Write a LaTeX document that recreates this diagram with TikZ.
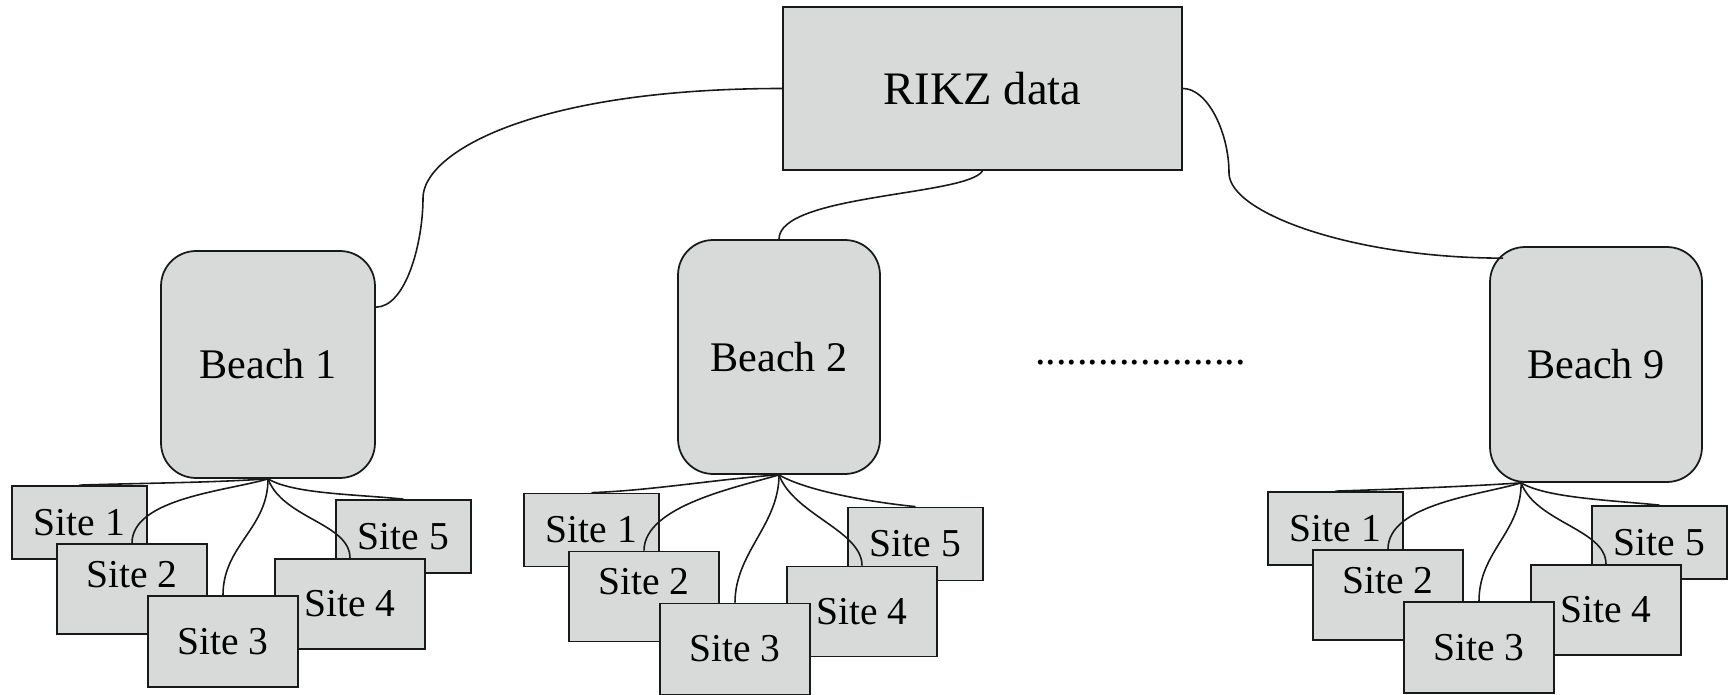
\documentclass[tikz,border=0pt]{standalone}
\usepackage{fontspec}
\setmainfont{Liberation Serif}
\usepackage{tikz}
\usetikzlibrary{calc}
\definecolor{boxgray}{RGB}{216,217,217}
\definecolor{linegray}{RGB}{25,25,25}

\begin{document}
\begin{tikzpicture}
[x=0.02cm,y=-0.02cm,
box/.style = {draw=linegray, fill = boxgray, line width=1pt, inner sep = 0pt},
beach/.style = {box, rounded corners=0.7cm, font=\fontsize{24}{28}\selectfont},
site/.style = {box, minimum width=3cm, minimum height=1.8cm, font=\fontsize{22.5}{27}\selectfont},
smallsite/.style = {site, minimum width=2.7cm, minimum height=1.46cm},
link/.style = {draw=linegray, line width=0.9pt},]

\useasboundingbox (0,0) rectangle (1732,695);

\node (rikz) at (982.5,88.5)[box, minimum width=7.98cm, minimum height=3.26cm, font=\fontsize{26.5}{32}\selectfont] {RIKZ data};
\node (b1) at (268,364.5)[beach, minimum width=4.28cm, minimum height=4.54cm] {Beach 1};
\node (b2) at (779,357)[beach, minimum width=4.04cm, minimum height=4.68cm] {Beach 2};
\node (b9) at (1596,364.5)[beach, minimum width=4.24cm, minimum height=4.7cm] {Beach 9};
\node (dots) at (1140.5,363)[font=\fontsize{24}{28}\selectfont] {....................};

\coordinate (bend1) at (423,198);
\coordinate (bend9) at (1229,173);
\coordinate (end9) at ($(b9.north west)+(14,12)$);
\draw [link] (b1.28) .. controls +(30,0) and +(0,45) .. (bend1) .. controls +(0,-45) and +(-250,0) .. (rikz.west);
\draw [link] (rikz.south) .. controls +(-15,25) and +(0,-45) .. (b2.north);
\draw [link] (rikz.east) .. controls +(25,0) and +(0,-40) .. (bend9) .. controls +(0,40) and +(-150,0) .. (end9);

\coordinate (j1) at (b1.south);
\coordinate (j2) at (b2.south);
\coordinate (j9) at ($(b9.south west)+(32,0)$);

% five sites under each beach
\foreach \b/\gx/\gy in {1/79.5/522.5, 2/591.5/530, 9/1335.5/528.5}{
\node (s\b1) at (\gx,\gy)[smallsite] {Site 1};
\node (s\b5) at (\gx+324,\gy+14)[smallsite] {Site 5};
\node (s\b2) at (\gx+52.5,\gy+66.5)[site, text depth=0.6cm] {Site 2};
\node (s\b4) at (\gx+270.5,\gy+81.5)[site] {Site 4};
\node (s\b3) at (\gx+143.5,\gy+119)[site, minimum height=1.82cm] {Site 3};
\draw [link] (j\b) .. controls +(-60,4) and +(60,-2) .. (s\b1.north);
\draw [link] (j\b) .. controls +(-40,12) and +(0,-45) .. (s\b2.north);
\draw [link] (j\b) .. controls +(0,50) and +(0,-50) .. (s\b3.north);
\draw [link] (j\b) .. controls +(15,40) and +(0,-35) .. (s\b4.north);
\draw [link] (j\b) .. controls +(25,15) and +(-50,-5) .. (s\b5.north);
}

\end{tikzpicture}
\end{document}
